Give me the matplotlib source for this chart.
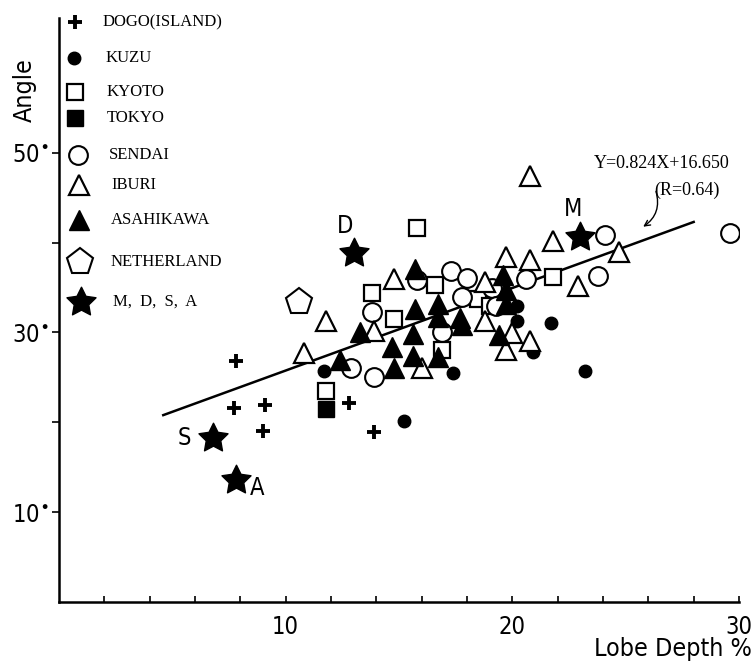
import matplotlib.pyplot as plt
import numpy as np
from matplotlib.path import Path

# DOGO (island) - plus
dogo_x = [7.8, 7.7, 9.1, 9.0, 12.8, 13.9]
dogo_y = [26.8, 21.6, 21.9, 19.0, 22.1, 18.9]

# KUZU - filled circle
kuzu_x = [11.7, 15.2, 17.4, 20.2, 20.2, 20.9, 21.7, 23.2]
kuzu_y = [25.7, 20.1, 25.5, 32.9, 31.3, 27.8, 31.1, 25.7]

# KYOTO - open square
kyoto_x = [11.8, 13.8, 14.8, 15.8, 16.6, 16.9, 18.5, 19.0, 21.8]
kyoto_y = [23.5, 34.4, 31.5, 41.6, 35.3, 28.0, 33.7, 32.9, 36.2]

# TOKYO - filled square
tokyo_x = [11.8]
tokyo_y = [21.5]

# SENDAI - open circle
sendai_x = [12.9, 13.9, 13.8, 15.8, 16.9, 17.3, 18.0, 17.8, 19.1, 19.3, 20.6, 23.8, 24.1, 29.6]
sendai_y = [26.0, 25.0, 32.3, 35.8, 30.0, 36.8, 36.1, 33.9, 34.9, 33.0, 36.0, 36.3, 40.9, 41.1]

# IBURI - open triangle
iburi_x = [10.8, 11.8, 13.9, 14.8, 16.0, 18.8, 18.8, 19.7, 19.7, 20.0, 20.8, 20.8, 20.8, 21.8, 22.9, 24.7]
iburi_y = [27.7, 31.3, 30.2, 36.0, 26.0, 35.6, 31.3, 38.4, 28.0, 29.9, 38.1, 29.1, 47.4, 40.2, 35.2, 38.9]

# ASAHIKAWA - filled triangle
asahi_x = [12.4, 13.3, 14.7, 14.8, 15.7, 15.6, 15.6, 15.7, 16.7, 16.7, 16.7, 17.8, 17.7, 19.6, 19.7, 19.7, 19.4]
asahi_y = [26.9, 30.0, 28.4, 26.0, 32.6, 29.8, 27.4, 37.1, 33.2, 31.7, 27.3, 30.8, 31.6, 36.4, 34.7, 33.2, 29.7]

# NETHERLAND - pentagon
neth_x = [10.6]
neth_y = [33.4]

# M, D, S, A - stars
star_names = ['M', 'D', 'S', 'A']
star_x = [23.0, 13.0, 6.8, 7.8]
star_y = [40.6, 38.8, 18.3, 13.6]
star_label_x = [22.7, 12.6, 5.55, 8.75]
star_label_y = [43.7, 41.8, 18.3, 12.7]

# regression line as drawn
fit_x = [4.6, 28.0]
fit_y = [20.8, 42.3]
fit_text = 'Y=0.824X+16.650'
r_text = '(R=0.64)'

W, H = 755, 666
fig = plt.figure(figsize=(W / 100, H / 100), dpi=100)
ax = fig.add_axes([59 / W, 1 - 602 / H, 680 / W, 584 / H])

sans = dict(family='DejaVu Sans', stretch='condensed')
serif = dict(family=['Liberation Serif', 'DejaVu Serif'])
fat_star = Path.unit_regular_star(5, 0.5)

ax.plot(fit_x, fit_y, color='black', lw=1.8, zorder=1)

ax.plot(dogo_x, dogo_y, ls='none', marker='+', ms=10, mew=2.8, color='black')
ax.plot(kuzu_x, kuzu_y, ls='none', marker='o', ms=9, color='black')
ax.plot(kyoto_x, kyoto_y, ls='none', marker='s', ms=11, mfc='white', mec='black', mew=1.6)
ax.plot(tokyo_x, tokyo_y, ls='none', marker='s', ms=11, color='black')
ax.plot(sendai_x, sendai_y, ls='none', marker='o', ms=13.5, mfc='white', mec='black', mew=1.5)
ax.plot(iburi_x, iburi_y, ls='none', marker='^', ms=14, mfc='white', mec='black', mew=1.6)
ax.plot(asahi_x, asahi_y, ls='none', marker='^', ms=14, color='black')
ax.plot(neth_x, neth_y, ls='none', marker='p', ms=20, mfc='white', mec='black', mew=1.5)
ax.plot(star_x, star_y, ls='none', marker=fat_star, ms=22, color='black')

for name, lx, ly in zip(star_names, star_label_x, star_label_y):
    ax.text(lx, ly, name, ha='center', va='center', fontsize=17, **sans)

ax.text(26.6, 48.8, fit_text, ha='center', va='center', fontsize=13, **serif)
ax.text(27.7, 45.8, r_text, ha='center', va='center', fontsize=13, **serif)
ax.annotate('', xy=(25.67, 41.6), xytext=(26.3, 46.0),
            arrowprops=dict(arrowstyle='->', lw=1, color='black',
                            connectionstyle='arc3,rad=-0.4'))

# legend, drawn by hand in axes fraction
def fx(px):
    return (px - 59) / 680

def fy(py):
    return (602 - py) / 584

legend_rows = [
    ('DOGO(ISLAND)', 22, dict(marker='+', ms=10, mew=2.8, color='black'), 75, 103),
    ('KUZU', 58, dict(marker='o', ms=9, color='black'), 74, 106),
    ('KYOTO', 92, dict(marker='s', ms=11, mfc='white', mec='black', mew=1.6), 75, 107),
    ('TOKYO', 118, dict(marker='s', ms=11, color='black'), 75, 107),
    ('SENDAI', 155, dict(marker='o', ms=13.5, mfc='white', mec='black', mew=1.5), 78, 109),
    ('IBURI', 185, dict(marker='^', ms=14, mfc='white', mec='black', mew=1.6), 79, 111),
    ('ASAHIKAWA', 220, dict(marker='^', ms=14, color='black'), 79, 111),
    ('NETHERLAND', 262, dict(marker='p', ms=20, mfc='white', mec='black', mew=1.5), 80, 111),
    ('M,  D,  S,  A', 302, dict(marker=fat_star, ms=22, color='black'), 81, 113),
]
for label, py, style, mx, tx in legend_rows:
    ax.plot([fx(mx)], [fy(py)], ls='none', transform=ax.transAxes, clip_on=False, **style)
    ax.text(fx(tx), fy(py), label, transform=ax.transAxes, ha='left', va='center',
            fontsize=12, **serif)

ax.set_xlim(0, 30)
ax.set_ylim(0, 65)
ax.spines['top'].set_visible(False)
ax.spines['right'].set_visible(False)
for s in ['left', 'bottom']:
    ax.spines[s].set_linewidth(1.8)

ax.set_xticks([10, 20, 30])
ax.set_xticks(np.arange(2, 31, 2), minor=True)
ax.set_xticklabels(['10', '20', '30'], fontsize=17, **sans)
ax.tick_params(axis='x', which='both', direction='in', length=4, width=1.2, pad=9)

ax.set_yticks([10, 30, 50])
ax.set_yticks([20, 40], minor=True)
ax.set_yticklabels([r'10$^{\bullet}$', r'30$^{\bullet}$', r'50$^{\bullet}$'], fontsize=17, **sans)
ax.tick_params(axis='y', which='both', direction='out', length=5, width=1.2, pad=2)

fig.text(25 / W, 1 - 90 / H, 'Angle', rotation=90, ha='center', va='center', fontsize=18, **sans)
fig.text(752 / W, 1 - 649 / H, 'Lobe Depth %', ha='right', va='center', fontsize=18, **sans)

fig.savefig('out.png', dpi=100)
